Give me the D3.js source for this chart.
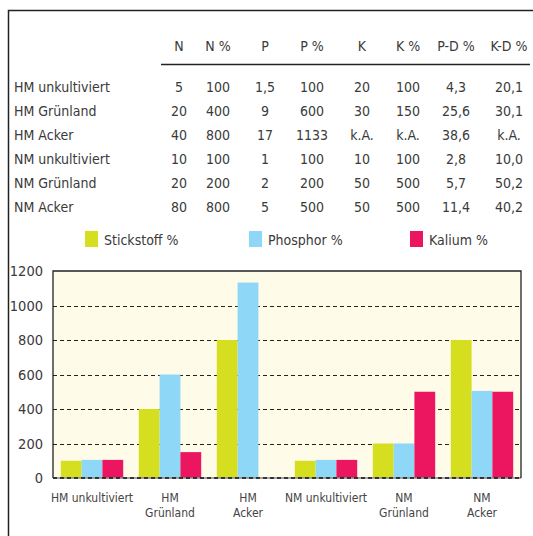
<!DOCTYPE html>
<html>
<head>
<meta charset="utf-8">
<style>
  body { margin: 0; background: #fff; }
  svg text { font-family: "DejaVu Sans Condensed", "Liberation Sans Narrow", sans-serif; }
</style>
</head>
<body>
<div id="chart"></div>
<script src="https://d3js.org/d3.v7.min.js"></script>
<script>
  const width = 533;
  const height = 536;

  // table data
  const rowNames = ["HM unkultiviert", "HM Grünland", "HM Acker", "NM unkultiviert", "NM Grünland", "NM Acker"];
  const tableHeaders = ["N", "N %", "P", "P %", "K", "K %", "P-D %", "K-D %"];
  const tableRows = [
    ["5", "100", "1,5", "100", "20", "100", "4,3", "20,1"],
    ["20", "400", "9", "600", "30", "150", "25,6", "30,1"],
    ["40", "800", "17", "1133", "k.A.", "k.A.", "38,6", "k.A."],
    ["10", "100", "1", "100", "10", "100", "2,8", "10,0"],
    ["20", "200", "2", "200", "50", "500", "5,7", "50,2"],
    ["80", "800", "5", "500", "50", "500", "11,4", "40,2"]
  ];

  // chart data
  const categories = [["HM unkultiviert"], ["HM", "Grünland"], ["HM", "Acker"], ["NM unkultiviert"], ["NM", "Grünland"], ["NM", "Acker"]];
  const seriesNames = ["Stickstoff %", "Phosphor %", "Kalium %"];
  const stickstoff = [100, 400, 800, 100, 200, 800];
  const phosphor = [105, 600, 1133, 105, 200, 505];
  const kalium = [105, 150, null, 105, 500, 500];
  const yTicks = [0, 200, 400, 600, 800, 1000, 1200];

  const colors = ["#d5df20", "#8fd7f6", "#ec1660"];
  const textColor = "#3a3a3a";

  const svg = d3.select("#chart").append("svg")
    .attr("width", width)
    .attr("height", height);

  // outer frame (left + top)
  svg.append("path")
    .attr("d", "M8.5,536 L8.5,10.5 L533,10.5")
    .attr("fill", "none")
    .attr("stroke", "#222")
    .attr("stroke-width", 1.5);

  // ---- table ----
  const colX = [179, 218, 265, 312, 362, 408, 456, 509];
  const headerY = 51;
  const rowY0 = 92;
  const rowStep = 24;

  svg.selectAll(".hdr")
    .data(tableHeaders)
    .join("text")
    .attr("x", (d, i) => colX[i])
    .attr("y", headerY)
    .attr("text-anchor", "middle")
    .attr("font-size", 14)
    .attr("fill", textColor)
    .text(d => d);

  svg.append("line")
    .attr("x1", 161).attr("x2", 530)
    .attr("y1", 64.5).attr("y2", 64.5)
    .attr("stroke", "#222")
    .attr("stroke-width", 1.3);

  const rows = svg.selectAll(".row")
    .data(tableRows)
    .join("g")
    .attr("transform", (d, i) => `translate(0,${rowY0 + i * rowStep})`);

  rows.append("text")
    .attr("x", 14)
    .attr("font-size", 14)
    .attr("fill", textColor)
    .text((d, i) => rowNames[i]);

  rows.selectAll(".cell")
    .data(d => d)
    .join("text")
    .attr("x", (d, i) => colX[i])
    .attr("text-anchor", "middle")
    .attr("font-size", 14)
    .attr("fill", textColor)
    .text(d => d);

  // ---- legend ----
  const legendX = [85, 249, 410];
  const legend = svg.selectAll(".legend")
    .data(seriesNames)
    .join("g")
    .attr("transform", (d, i) => `translate(${legendX[i]},231)`);
  legend.append("rect")
    .attr("width", 13).attr("height", 16)
    .attr("fill", (d, i) => colors[i]);
  legend.append("text")
    .attr("x", 19).attr("y", 14)
    .attr("font-size", 14)
    .attr("fill", textColor)
    .text(d => d);

  // ---- bar chart ----
  const margin = { left: 53, right: 521, top: 271, bottom: 478 };

  const x0 = d3.scaleBand()
    .domain(d3.range(categories.length))
    .range([margin.left, margin.right])
    .paddingInner(0.2)
    .paddingOuter(0.1);

  const x1 = d3.scaleBand()
    .domain(d3.range(seriesNames.length))
    .range([0, x0.bandwidth()]);

  const y = d3.scaleLinear()
    .domain([0, 1200])
    .range([margin.bottom, margin.top]);

  svg.append("rect")
    .attr("x", margin.left).attr("y", margin.top)
    .attr("width", margin.right - margin.left)
    .attr("height", margin.bottom - margin.top)
    .attr("fill", "#fefbe9");

  // grid lines
  svg.selectAll(".grid")
    .data(yTicks.filter(t => t > 0 && t < 1200))
    .join("line")
    .attr("x1", margin.left).attr("x2", margin.right)
    .attr("y1", d => Math.round(y(d)) + 0.5)
    .attr("y2", d => Math.round(y(d)) + 0.5)
    .attr("stroke", "#222")
    .attr("stroke-width", 1)
    .attr("stroke-dasharray", "4,3");

  // bars
  const series = [stickstoff, phosphor, kalium];
  const groups = svg.selectAll(".grp")
    .data(categories)
    .join("g")
    .attr("transform", (d, i) => `translate(${x0(i)},0)`);

  groups.selectAll("rect")
    .data((d, i) => series.map((s, j) => ({ j, v: s[i] })).filter(e => e.v != null))
    .join("rect")
    .attr("x", d => x1(d.j))
    .attr("width", x1.bandwidth())
    .attr("y", d => y(d.v))
    .attr("height", d => y(0) - y(d.v))
    .attr("fill", d => colors[d.j]);

  // zero line
  svg.append("line")
    .attr("x1", margin.left).attr("x2", margin.right)
    .attr("y1", y(0)).attr("y2", y(0))
    .attr("stroke", "#888").attr("stroke-width", 1.5);
  svg.append("line")
    .attr("x1", margin.left).attr("x2", margin.right)
    .attr("y1", y(0)).attr("y2", y(0))
    .attr("stroke", "#111").attr("stroke-width", 1.5)
    .attr("stroke-dasharray", "4,3");

  // plot frame top/left/right
  svg.append("path")
    .attr("d", `M${margin.left},${margin.bottom} L${margin.left},${margin.top} L${margin.right},${margin.top} L${margin.right},${margin.bottom}`)
    .attr("fill", "none")
    .attr("stroke", "#222")
    .attr("stroke-width", 1.3);

  // y axis labels
  const yAxis = svg.append("g")
    .attr("transform", `translate(${margin.left},0)`)
    .call(d3.axisLeft(y).tickValues(yTicks).tickFormat(d3.format("d")).tickSize(0).tickPadding(10));
  yAxis.select(".domain").remove();
  yAxis.selectAll("text")
    .attr("font-size", 14.5)
    .attr("fill", textColor)
    .style("font-family", "'DejaVu Sans Condensed', sans-serif");

  // x labels
  const xl = svg.selectAll(".xl")
    .data(categories)
    .join("text")
    .attr("x", (d, i) => x0(i) + x0.bandwidth() / 2)
    .attr("y", 502)
    .attr("text-anchor", "middle")
    .attr("font-size", 12)
    .attr("fill", "#444");
  xl.selectAll("tspan")
    .data(d => d)
    .join("tspan")
    .attr("x", function () { return d3.select(this.parentNode).attr("x"); })
    .attr("dy", (d, i) => i === 0 ? 0 : 15)
    .text(d => d);
</script>
</body>
</html>
